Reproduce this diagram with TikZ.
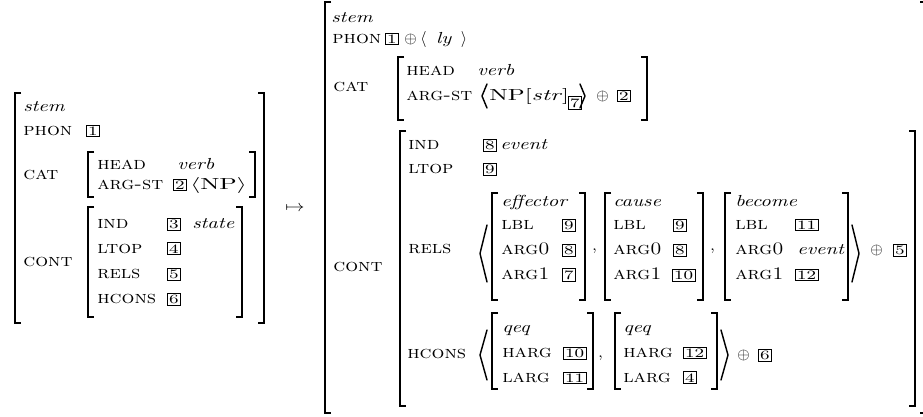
\documentclass[tikz,border=0pt]{standalone}
\usepackage{amsmath}
\usepackage{graphicx}
% square brackets of an attribute-value matrix: left x, right x, top y, bottom y
\newcommand\avmbox[4]{%
  \draw[brk] ({#1+6},#3) -| (#1,#4) -- ({#1+6},#4);
  \draw[brk] ({#2-6},#3) -| (#2,#4) -- ({#2-6},#4);}
% widened type for attributes, values, tags and categories
\newcommand\Lb[1]{\scalebox{1.15}[1]{\fontsize{11}{13}\selectfont\scshape #1}}
\newcommand\Vl[1]{\scalebox{1.28}[1]{\itshape #1}}
\newcommand\Tg[1]{\scalebox{1.4}[1]{#1}}
\newcommand\Ct[1]{\scalebox{1.6}[1]{#1}}
\begin{document}
\begin{tikzpicture}[x=0.625pt,y=-0.625pt,
  lab/.style={anchor=base west, inner sep=0pt},
  val/.style={anchor=base west, inner sep=0pt},
  sym/.style={anchor=base west, inner sep=0pt},
  tag/.style={draw, anchor=base west, inner xsep=1.1pt, inner ysep=1pt, font=\footnotesize, line width=0.45pt},
  brk/.style={line width=1.15pt, line join=miter},
  ang/.style={line width=0.9pt, line join=round, line cap=round}]
\useasboundingbox (0,0) rectangle (923,416);

% ---------- input stem ----------
\avmbox{15}{264}{93}{323}
\avmbox{88}{255}{152}{197}
\avmbox{88}{242}{207}{317}
\node[val] (ls) at (23,111) {\Vl{stem}};
\node[lab] (lphon) at (23,135) {\Lb{phon}};
\node[tag] (lt1) at (86,135) {\Tg{1}};
\node[lab] (lcat) at (23,179) {\Lb{cat}};
\node[lab] (lhead) at (97,169) {\Lb{head}};
\node[val] (lverb) at (177,169) {\Vl{verb}};
\node[lab] (largst) at (97,189) {\Lb{arg-st}};
\node[tag] (lt2) at (173,189) {\Tg{2}};
\node[sym] (lnp) at (190,189) {\Ct{$\langle\mathrm{NP}\rangle$}};
\node[lab] (lcont) at (23,266) {\Lb{cont}};
\node[lab] (lind) at (97,228) {\Lb{ind}};
\node[tag] (lt3) at (167,228) {\Tg{3}};
\node[val] (lstate) at (192,228) {\Vl{state}};
\node[lab] (lltop) at (97,253) {\Lb{ltop}};
\node[tag] (lt4) at (167,253) {\Tg{4}};
\node[lab] (lrels) at (97,278) {\Lb{rels}};
\node[tag] (lt5) at (167,278) {\Tg{5}};
\node[lab] (lhcons) at (97,303) {\Lb{hcons}};
\node[tag] (lt6) at (167,303) {\Tg{6}};

% ---------- rule arrow ----------
\node[sym] (map) at (285,211) {\scalebox{1.2}[1]{$\mapsto$}};

% ---------- derived stem ----------
\avmbox{325}{926}{2}{413}
\avmbox{398}{647}{57}{120}
\avmbox{400}{915}{131}{406}
\node[val] (rs) at (331,22) {\Vl{stem}};
\node[lab] (rphon) at (332,43) {\Lb{phon}};
\node[tag] (rt1) at (385,43) {\Tg{1}};
\node[sym] (rop1) at (404,43) {$\oplus$};
\node[sym] (rly) at (420,43) {$\langle$\hspace{6pt}\Vl{ly}\hspace{6pt}$\rangle$};
\node[lab] (rcat) at (333,91) {\Lb{cat}};
\node[lab] (rhead) at (406,75) {\Lb{head}};
\node[val] (rverb) at (477,75) {\Vl{verb}};
\node[lab] (rargst) at (406,100) {\Lb{arg-st}};
\draw[ang] (487,84) -- (482,96) -- (487,108);
\node[sym] (rnp) at (489,100) {\scalebox{1.55}[1]{NP[\textit{str}]}};
\node[tag] (rt7a) at (568,107) {\Tg{7}};
\draw[ang] (580,84) -- (585,96) -- (580,108);
\node[sym] (rop2) at (596,100) {$\oplus$};
\node[tag] (rt2) at (617,100) {\Tg{2}};

\node[lab] (rcont) at (333,271) {\Lb{cont}};
\node[lab] (rind) at (408,149) {\Lb{ind}};
\node[tag] (rt8) at (483,149) {\Tg{8}};
\node[val] (revent) at (500,149) {\Vl{event}};
\node[lab] (rltop) at (408,173) {\Lb{ltop}};
\node[tag] (rt9) at (483,173) {\Tg{9}};

% RELS list
\node[lab] (rrels) at (408,253) {\Lb{rels}};
\draw[ang] (487,225) -- (480,253.5) -- (487,282);
\avmbox{492}{585}{193}{300}
\node[val] (eff) at (501,206) {\Vl{effector}};
\node[lab] (effl) at (501,229) {\Lb{lbl}};
\node[tag] (efft1) at (562,229) {\Tg{9}};
\node[lab] (eff0) at (501,254) {\Lb{arg0}};
\node[tag] (efft2) at (562,254) {\Tg{8}};
\node[lab] (eff1) at (501,279) {\Lb{arg1}};
\node[tag] (efft3) at (562,279) {\Tg{7}};
\node[sym] (c1) at (592,250) {,};
\avmbox{605}{703}{193}{300}
\node[val] (cau) at (613,206) {\Vl{cause}};
\node[lab] (caul) at (613,229) {\Lb{lbl}};
\node[tag] (caut1) at (673,229) {\Tg{9}};
\node[lab] (cau0) at (613,254) {\Lb{arg0}};
\node[tag] (caut2) at (673,254) {\Tg{8}};
\node[lab] (cau1) at (613,279) {\Lb{arg1}};
\node[tag] (caut3) at (672,279) {\Tg{10}};
\node[sym] (c2) at (710,250) {,};
\avmbox{725}{848}{193}{300}
\node[val] (bec) at (735,206) {\Vl{become}};
\node[lab] (becl) at (735,229) {\Lb{lbl}};
\node[tag] (bect1) at (795,229) {\Tg{11}};
\node[lab] (bec0) at (735,254) {\Lb{arg0}};
\node[val] (becev) at (797,254) {\Vl{event}};
\node[lab] (bec1) at (735,279) {\Lb{arg1}};
\node[tag] (bect3) at (795,279) {\Tg{12}};
\draw[ang] (852,225) -- (859,253.5) -- (852,282);
\node[sym] (rop3) at (870,254) {$\oplus$};
\node[tag] (rt5) at (893,254) {\Tg{5}};

% HCONS list
\node[lab] (rhcons) at (407,358) {\Lb{hcons}};
\draw[ang] (487,330) -- (480,355) -- (487,380);
\avmbox{492}{593}{313}{389}
\node[val] (q1) at (502,332) {\Vl{qeq}};
\node[lab] (q1h) at (502,357) {\Lb{harg}};
\node[tag] (q1t1) at (563,357) {\Tg{10}};
\node[lab] (q1l) at (502,382) {\Lb{larg}};
\node[tag] (q1t2) at (563,382) {\Tg{11}};
\node[sym] (c3) at (598,357) {,};
\avmbox{615}{717}{313}{389}
\node[val] (q2) at (623,332) {\Vl{qeq}};
\node[lab] (q2h) at (623,357) {\Lb{harg}};
\node[tag] (q2t1) at (683,357) {\Tg{12}};
\node[lab] (q2l) at (623,382) {\Lb{larg}};
\node[tag] (q2t2) at (683,382) {\Tg{4}};
\draw[ang] (721,330) -- (728,355) -- (721,380);
\node[sym] (rop4) at (737,359) {$\oplus$};
\node[tag] (rt6) at (758,359) {\Tg{6}};
\end{tikzpicture}
\end{document}
